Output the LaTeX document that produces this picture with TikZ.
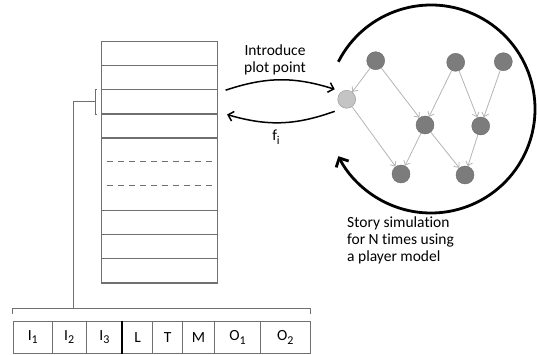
\documentclass[tikz,border=0pt]{standalone}
\usepackage{fontspec}
\setmainfont[Ligatures=NoCommon]{Carlito}
\usepackage{tikz}
\usetikzlibrary{arrows.meta}
\newcommand{\idx}[1]{\raisebox{-3.5pt}{\fontsize{12}{12}\selectfont #1}}
\definecolor{linegray}{HTML}{707070}
\definecolor{edgegray}{HTML}{B4B4B4}
\definecolor{eventgray}{HTML}{7C7C7C}
\definecolor{plotgray}{HTML}{C4C4C4}
\tikzstyle{slot} = [draw=linegray, line width=1.2pt, minimum width=116pt, minimum height=24.15pt, inner sep=0pt]
\tikzstyle{cell} = [draw=linegray, line width=1pt, minimum height=32.5pt, inner sep=0pt, font=\fontsize{15.5}{17}\selectfont]
\tikzstyle{event} = [circle, fill=eventgray, draw=eventgray!85!black, minimum size=18pt, inner sep=0pt]
\tikzstyle{plotpoint} = [event, fill=plotgray, draw=gray!85]
\tikzstyle{link} = [draw=edgegray, line width=0.8pt, -{Straight Barb[length=4pt,width=7pt]}]
\tikzstyle{flow} = [line width=1.5pt, -{Straight Barb[length=5pt,width=10pt]}]
\tikzstyle{note} = [font=\fontsize{15.5}{17}\selectfont, align=center, inner sep=0pt]

\begin{document}
\begin{tikzpicture}[x=1pt,y=1pt]
	\useasboundingbox (0,0) rectangle (537,-355);
	\foreach \i in {1,2,3,4}
		\node[slot] (s\i) at (159.5,{-41.5-24.15*(\i-0.5)}) {};
	\node[slot, minimum height=72.45pt] (gap) at (159.5,{-41.5-24.15*5.5}) {};
	\foreach \i in {8,9,10}
		\node[slot] (s\i) at (159.5,{-41.5-24.15*(\i-0.5)}) {};
	\draw[linegray, line width=1pt, dash pattern=on 6.5pt off 4.5pt] ([shift={(6,-24.15)}]gap.north west) -- ([shift={(-5,-24.15)}]gap.north east);
	\draw[linegray, line width=1pt, dash pattern=on 6.5pt off 4.5pt] ([shift={(6,-48.3)}]gap.north west) -- ([shift={(-5,-48.3)}]gap.north east);

	\foreach \txt/\xa/\xb [count=\i] in {I\idx{1}/13.3/52.3, I\idx{2}/52.3/86, I\idx{3}/86/122.7, L/122.7/152.7, T/152.7/182.7, M/182.7/214.3, O\idx{1}/214.3/260.7, O\idx{2}/260.7/310}
		\node[cell, minimum width={(\xb-\xa)*1pt}] (c\i) at ({(\xa+\xb)/2},-337.25) {\txt};
	\draw[line width=2pt] (c4.north west) -- (c4.south west);

	\draw[linegray, line width=1pt] ([xshift=-3.5pt]s3.north west) -- ([xshift=-5.5pt]s3.north west) -- ([xshift=-5.5pt]s3.south west) -- ([xshift=-3.5pt]s3.south west);
	\coordinate (tap) at ([xshift=-5.5pt]s3.west);
	\coordinate (brace) at (73.3,-309);
	\draw[linegray, line width=1pt] (tap) -| (brace);
	\draw[linegray, line width=1pt] ([yshift=7pt]c1.north west) -- ([yshift=12pt]c1.north west) -- ([yshift=12pt]c8.north east) -- ([yshift=7pt]c8.north east);

	\node[plotpoint] (pp) at (346.7,-99.3) {};
	\node[event] (t1) at (375.7,-60.7) {};
	\node[event] (t2) at (455.7,-62.3) {};
	\node[event] (t3) at (503.3,-61.7) {};
	\node[event] (m1) at (425,-125) {};
	\node[event] (m2) at (480.7,-126) {};
	\node[event] (b1) at (401,-174) {};
	\node[event] (b2) at (465,-175) {};
	\foreach \a/\b in {t1/pp,t1/m1,t2/m1,t2/m2,t3/m2,pp/b1,m1/b1,m1/b2,m2/b2}
		\draw[link] (\a) -- (\b);

	\coordinate (sim) at (431,-109);
	\draw[line width=2.8pt, -{Straight Barb[length=7pt,width=14pt]}] ([shift={(153:104)}]sim) arc[start angle=153, end angle=-153, radius=104];

	\draw[flow] ([shift={(7.5,-1)}]s3.north east) to[bend left=18] ([shift={(-12,10)}]pp.center);
	\draw[flow] ([shift={(-12,-12)}]pp.center) to[bend left=18] ([xshift=9pt]s3.south east);

	\node[note] (intro) at (275,-59.5) {Introduce\\plot point};
	\node[note] (fi) at (276,-137) {f\idx{i}};
	\node[note, align=left, anchor=north west] (story) at (347,-217) {Story simulation\\for N times using\\a player model};
\end{tikzpicture}
\end{document}
